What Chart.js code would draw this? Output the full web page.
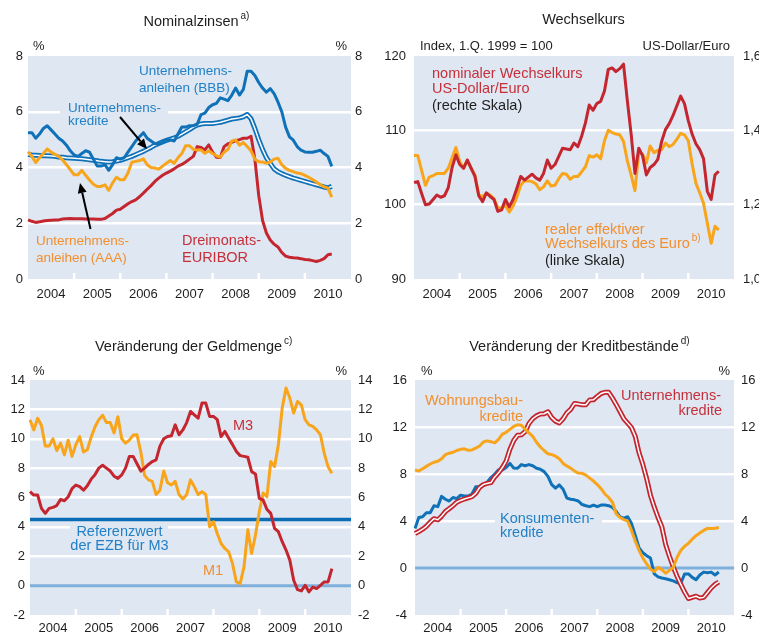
<!DOCTYPE html>
<html>
<head>
<meta charset="utf-8">
<script src="https://cdn.jsdelivr.net/npm/chart.js@4.4.1/dist/chart.umd.min.js"></script>
<style>
  body { margin: 0; background: #fff; }
  #wrap { position: relative; width: 759px; height: 634px; overflow: hidden; }
  canvas { position: absolute; }
</style>
</head>
<body>
<div id="wrap">
  <canvas id="c1" width="379" height="317" style="left:0;top:0"></canvas>
  <canvas id="c2" width="380" height="317" style="left:379px;top:0"></canvas>
  <canvas id="c3" width="379" height="317" style="left:0;top:317px"></canvas>
  <canvas id="c4" width="380" height="317" style="left:379px;top:317px"></canvas>
</div>
<script>
// x axis: monthly, Jan 2004 .. Dec 2010
const years = ['2004', '2005', '2006', '2007', '2008', '2009', '2010'];
const months = ['01', '02', '03', '04', '05', '06', '07', '08', '09', '10', '11', '12'];

// Nominalzinsen (%)
const zinsBBB = [5.25, 5.25, 5.05, 5.2, 5.4, 5.5, 5.35, 5.2, 5.05, 4.95,
  4.8, 4.6, 4.45, 4.4, 4.5, 4.6, 4.55, 4.3, 4.05, 4.05,
  4.1, 3.9, 4.1, 4.35, 4.3, 4.35, 4.55, 4.75, 4.95, 5.1,
  5.25, 5.05, 4.95, 4.85, 4.85, 4.9, 5.0, 5.0, 4.95, 5.2,
  5.45, 5.45, 5.5, 5.5, 5.55, 5.9, 5.95, 6.15, 6.25, 6.3,
  6.5, 6.45, 6.4, 6.6, 6.85, 6.6, 6.8, 7.45, 7.45, 7.3,
  7.05, 6.85, 6.7, 6.83, 6.65, 6.35, 6.0, 5.45, 5.1, 4.98,
  4.75, 4.62, 4.56, 4.55, 4.55, 4.58, 4.62, 4.5, 4.4, 4.04];
const zinsKredite = [4.47, 4.45, 4.44, 4.43, 4.42, 4.42, 4.41, 4.4, 4.38, 4.37,
  4.35, 4.34, 4.33, 4.32, 4.31, 4.3, 4.28, 4.26, 4.24, 4.22,
  4.21, 4.2, 4.21, 4.23, 4.26, 4.3, 4.35, 4.4, 4.46, 4.52,
  4.58, 4.65, 4.72, 4.8, 4.86, 4.92, 4.97, 5.02, 5.06, 5.12,
  5.2, 5.28, 5.36, 5.45, 5.52, 5.56, 5.58, 5.58, 5.58, 5.6,
  5.62, 5.66, 5.7, 5.74, 5.76, 5.78, 5.82, 5.9, 5.75, 5.4,
  5.0, 4.65, 4.35, 4.15, 3.95, 3.85, 3.78, 3.72, 3.67, 3.62,
  3.58, 3.54, 3.5, 3.46, 3.42, 3.38, 3.34, 3.3, 3.27, 3.32];
const zinsAAA = [4.57, 4.4, 4.18, 4.35, 4.5, 4.67, 4.55, 4.47, 4.4, 4.27,
  4.1, 3.92, 3.74, 3.74, 3.9, 3.72, 3.55, 3.4, 3.32, 3.32,
  3.38, 3.18, 3.45, 3.65, 3.56, 3.56, 3.8, 4.19, 4.22, 4.25,
  4.31, 4.1, 4.0, 3.98, 3.94, 4.05, 4.15, 4.25, 4.15, 4.35,
  4.5, 4.78, 4.78, 4.65, 4.63, 4.63, 4.51, 4.6, 4.5, 4.42,
  4.37, 4.55, 4.65, 4.95, 4.99, 4.8, 4.9, 4.75, 4.6, 4.3,
  4.21, 4.2, 4.15, 4.2, 4.3, 4.33, 4.1, 3.97, 3.9, 3.85,
  3.8, 3.78, 3.72, 3.65, 3.57, 3.48, 3.38, 3.31, 3.26, 2.94];
const euribor = [2.12, 2.07, 2.03, 2.05, 2.08, 2.1, 2.11, 2.12, 2.12, 2.15,
  2.16, 2.17, 2.16, 2.16, 2.16, 2.15, 2.15, 2.15, 2.14, 2.14,
  2.17, 2.26, 2.35, 2.47, 2.5, 2.6, 2.7, 2.78, 2.84, 2.95,
  3.08, 3.22, 3.35, 3.5, 3.62, 3.72, 3.8, 3.87, 3.95, 4.05,
  4.11, 4.2, 4.3, 4.4, 4.75, 4.72, 4.63, 4.81, 4.55, 4.37,
  4.36, 4.75, 4.85, 4.9, 4.96, 5.0, 5.05, 5.05, 5.12, 4.3,
  3.0, 2.1, 1.65, 1.4, 1.25, 1.15, 0.95, 0.82, 0.78, 0.76,
  0.75, 0.73, 0.7, 0.69, 0.66, 0.63, 0.67, 0.73, 0.87, 0.9];

// Wechselkurs
const usdEuro = [1.26, 1.262, 1.23, 1.2, 1.202, 1.214, 1.226, 1.22, 1.224, 1.246,
  1.3, 1.334, 1.308, 1.298, 1.32, 1.298, 1.276, 1.224, 1.208, 1.232,
  1.222, 1.214, 1.182, 1.186, 1.214, 1.194, 1.214, 1.244, 1.276, 1.266,
  1.274, 1.282, 1.272, 1.266, 1.284, 1.32, 1.298, 1.308, 1.33, 1.352,
  1.35, 1.348, 1.366, 1.356, 1.384, 1.42, 1.468, 1.454, 1.472, 1.478,
  1.506, 1.564, 1.568, 1.558, 1.566, 1.578, 1.48, 1.39, 1.284, 1.352,
  1.332, 1.28, 1.3, 1.308, 1.322, 1.37, 1.402, 1.418, 1.44, 1.466,
  1.492, 1.472, 1.426, 1.39, 1.364, 1.348, 1.324, 1.236, 1.214, 1.28,
  1.29];
const realEffektiv = [106.6, 106.6, 104.6, 102.6, 103.7, 103.9, 104.2, 104.2, 104.2, 104.9,
  106.3, 107.7, 105.8, 104.9, 106.0, 104.9, 104.0, 101.3, 101.1, 101.5,
  101.3, 100.8, 99.6, 99.5, 99.9, 99.0, 99.8, 101.0, 102.6, 103.2,
  103.2, 103.1, 102.8, 102.0, 102.4, 103.2, 102.5, 102.6, 103.5, 104.2,
  104.1, 103.4, 103.8, 103.8, 104.4, 105.1, 106.6, 106.4, 106.7, 106.2,
  108.6, 110.0, 109.7, 109.5, 109.4, 108.5, 105.9, 104.0, 101.9, 107.0,
  106.8, 105.6, 107.9, 107.0, 107.3, 107.4, 108.3, 107.8, 108.1, 108.8,
  109.6, 109.4, 108.6, 105.5, 102.9, 101.6, 100.2, 97.5, 94.8, 97.1,
  96.6];

// Geldmenge (% gg. Vorjahr)
const geldM1 = [11.3, 10.6, 11.4, 10.9, 9.5, 9.5, 10.0, 9.2, 9.7, 8.9,
  9.9, 8.8, 9.6, 10.15, 9.1, 9.25, 10.1, 10.8, 11.3, 11.6,
  11.1, 11.1, 10.4, 11.5, 10.0, 9.7, 9.9, 10.25, 10.27, 9.1,
  7.5, 7.2, 7.1, 6.2, 6.5, 7.8, 7.0, 6.85, 7.1, 6.2,
  5.9, 6.2, 7.2, 6.74, 6.2, 6.4, 6.2, 4.0, 4.35, 3.55,
  2.87, 2.53, 2.3, 1.5, 0.25, 0.14, 1.28, 3.8, 2.19, 3.44,
  5.03, 6.3, 6.06, 8.45, 8.1, 9.6, 12.1, 13.45, 12.77, 11.75,
  12.54, 12.3, 11.3, 10.95, 10.84, 10.6, 10.27, 9.0, 8.1, 7.65];
const geldM3 = [6.4, 6.17, 6.17, 5.26, 4.92, 5.26, 5.33, 5.45, 5.87, 5.78,
  6.05, 6.6, 6.85, 6.74, 6.5, 6.8, 7.25, 7.55, 8.0, 8.2,
  8.0, 7.8, 7.45, 7.3, 7.54, 8.0, 8.8, 8.8, 8.3, 7.8,
  8.0, 8.25, 8.45, 8.56, 9.5, 10.0, 10.15, 10.2, 10.95, 10.27,
  10.6, 11.1, 11.86, 11.63, 11.4, 12.43, 12.43, 11.52, 11.52, 11.3,
  10.15, 10.5, 10.04, 9.6, 9.13, 8.85, 8.8, 8.74, 7.76, 7.6,
  5.94, 5.83, 5.19, 4.92, 3.9, 3.67, 2.99, 2.42, 1.73, 0.37,
  -0.27, -0.36, 0.02, -0.43, -0.1, -0.2, 0.02, 0.25, 0.25, 1.16];
const referenzwert = 4.5;

// Kreditbestände (% gg. Vorjahr)
const wohnungsbau = [8.35, 8.25, 8.45, 8.65, 8.85, 9.0, 9.08, 9.3, 9.65, 9.77,
  9.85, 10.0, 10.1, 10.14, 10.02, 10.05, 10.2, 10.38, 10.72, 10.82,
  10.75, 10.65, 10.95, 11.4, 11.55, 11.8, 12.05, 12.19, 12.15, 11.8,
  11.5, 11.2, 10.7, 10.3, 10.0, 9.72, 9.65, 9.52, 9.3, 8.9,
  8.68, 8.5, 8.25, 8.08, 8.06, 7.9, 7.65, 7.4, 7.1, 6.75,
  6.3, 6.0, 5.6, 4.6, 4.3, 4.12, 3.98, 3.2, 2.3, 1.5,
  0.85, 0.35, -0.1, -0.3, 0.05, -0.14, -0.45, -0.2, 0.05, 0.9,
  1.5, 1.85, 2.1, 2.45, 2.75, 2.98, 3.2, 3.37, 3.37, 3.38,
  3.45];
const konsum = [3.37, 4.3, 4.36, 4.7, 4.7, 5.3, 5.22, 6.1, 5.85, 5.7,
  6.0, 5.9, 6.2, 6.13, 6.13, 6.3, 6.92, 6.92, 7.0, 7.3,
  7.7, 8.0, 8.35, 8.35, 8.55, 8.9, 8.5, 8.49, 8.8, 8.7,
  8.8, 8.7, 8.49, 8.4, 8.2, 7.8, 7.1, 6.8, 7.07, 6.7,
  5.95, 5.85, 5.8, 5.7, 5.4, 5.3, 5.22, 5.36, 5.22, 5.36,
  5.36, 5.3, 5.15, 4.8, 4.35, 4.25, 4.36, 3.8, 2.8, 1.7,
  1.3, 1.05, 0.85, -0.5, -0.75, -0.85, -0.91, -1.0, -1.1, -1.25,
  -1.3, -0.5, -0.5, -0.8, -1.0, -0.6, -0.35, -0.4, -0.35, -0.6,
  -0.34];
const unternehmen = [2.94, 3.1, 3.3, 3.55, 3.9, 4.2, 4.1, 4.4, 4.8, 5.05,
  5.3, 5.6, 5.75, 5.87, 5.97, 6.07, 6.35, 6.85, 7.1, 7.2,
  7.27, 7.75, 8.1, 8.55, 9.1, 10.1, 10.85, 11.3, 11.33, 11.6,
  12.3, 12.7, 12.95, 13.1, 13.13, 13.3, 12.8, 12.5, 12.35, 12.7,
  13.2, 13.5, 14.0, 13.95, 13.89, 13.9, 14.3, 14.32, 14.6, 14.85,
  14.95, 14.95, 14.46, 13.9, 13.3, 12.7, 12.33, 11.95, 11.2, 9.8,
  8.8, 7.6, 6.2, 5.2, 4.3, 3.5, 2.0, 1.0, 0.1, -0.7,
  -1.4, -2.05, -2.6, -2.5, -2.4, -2.55, -2.5, -2.1, -1.7, -1.4,
  -1.19];

const monthLabels = [];
years.forEach(y => months.forEach(m => monthLabels.push(m + '/' + y)));
monthLabels.push('01/2011');

const BG = '#dfe7f2';
const BLUE = '#0f71b7', BLUE_TXT = '#2281c6';
const ORANGE = '#f8a51c', ORANGE_TXT = '#f28f2e';
const RED = '#c4262f', RED_TXT = '#c5303a';
const FONT = "'Liberation Sans', Arial, sans-serif";

Chart.defaults.font.family = FONT;
Chart.defaults.font.size = 13;
Chart.defaults.color = '#1e1e1e';

function arrow(ctx, x1, y1, x2, y2) {
  const a = Math.atan2(y2 - y1, x2 - x1), hl = 10, hw = 4.5;
  const bx = x2 - hl * Math.cos(a), by = y2 - hl * Math.sin(a);
  ctx.strokeStyle = '#000'; ctx.fillStyle = '#000'; ctx.lineWidth = 2;
  ctx.beginPath(); ctx.moveTo(x1, y1); ctx.lineTo(bx, by); ctx.stroke();
  ctx.beginPath();
  ctx.moveTo(x2, y2);
  ctx.lineTo(bx + hw * Math.sin(a), by - hw * Math.cos(a));
  ctx.lineTo(bx - hw * Math.sin(a), by + hw * Math.cos(a));
  ctx.closePath(); ctx.fill();
}

const decor = {
  id: 'decor',
  beforeDraw(chart) {
    const a = chart.chartArea, ctx = chart.ctx;
    ctx.save();
    ctx.fillStyle = BG;
    ctx.fillRect(a.left, a.top, a.right - a.left, a.bottom - a.top);
    ctx.restore();
  },
  beforeDatasetsDraw(chart, args, o) {
    const a = chart.chartArea, ctx = chart.ctx, sx = chart.scales.x, sy = chart.scales.y;
    ctx.save();
    ctx.fillStyle = BG;
    (o.boxes || []).forEach(b => ctx.fillRect(b[0], b[1], b[2], b[3]));
    // year marks
    ctx.strokeStyle = '#fff'; ctx.lineWidth = 2.5;
    for (let k = 1; k < years.length; k++) {
      const x = sx.getPixelForValue(12 * k);
      ctx.beginPath(); ctx.moveTo(x, a.bottom); ctx.lineTo(x, a.bottom - 6); ctx.stroke();
    }
    (o.hLines || []).forEach(h => {
      const y = sy.getPixelForValue(h.value);
      ctx.strokeStyle = h.color; ctx.lineWidth = h.width;
      ctx.beginPath(); ctx.moveTo(a.left, y); ctx.lineTo(a.right, y); ctx.stroke();
    });
    ctx.restore();
  },
  afterDraw(chart, args, o) {
    const ctx = chart.ctx;
    ctx.save();
    ctx.textBaseline = 'alphabetic';
    (o.texts || []).forEach(t => {
      ctx.font = (t.size || 14.5) + 'px ' + FONT;
      ctx.fillStyle = t.color || '#1e1e1e';
      ctx.textAlign = t.align || 'left';
      ctx.fillText(t.text, t.x, t.y);
      if (t.sup) {
        const w = ctx.measureText(t.text).width;
        const x0 = t.align === 'center' ? t.x + w / 2 : (t.align === 'right' ? t.x : t.x + w);
        ctx.font = '10px ' + FONT;
        ctx.textAlign = 'left';
        ctx.fillText(t.sup, x0 + 2, t.y - 7);
      }
    });
    (o.arrows || []).forEach(p => arrow(ctx, p[0], p[1], p[2], p[3]));
    ctx.restore();
  }
};

function line(data, color, width, axis) {
  return { data: data, borderColor: color, borderWidth: width, yAxisID: axis || 'y',
    pointRadius: 0, fill: false, tension: 0, borderJoinStyle: 'round' };
}

function panel(id, o) {
  const gridColor = ctx => {
    const v = ctx.tick.value;
    if (v <= o.min || v >= o.max || v === 0) return 'rgba(0,0,0,0)';
    return '#ffffff';
  };
  return new Chart(document.getElementById(id), {
    type: 'line',
    data: { labels: monthLabels, datasets: o.datasets },
    options: {
      responsive: false,
      animation: false,
      layout: { padding: { top: o.top, left: 0, right: 0, bottom: 0 } },
      plugins: { legend: { display: false }, tooltip: { enabled: false }, decor: o.decor },
      scales: {
        x: {
          type: 'category', offset: false,
          grid: { display: false, drawTicks: false }, border: { display: false },
          ticks: { autoSkip: false, maxRotation: 0, padding: o.xPad,
            callback: (v, i) => (i % 12 === 6 ? years[Math.floor(i / 12)] : '') },
          afterFit: s => { s.height = o.xH; }
        },
        y: {
          position: 'left', min: o.min, max: o.max,
          ticks: { stepSize: o.step, padding: o.lPad },
          grid: { color: gridColor, lineWidth: 2.5, drawTicks: false }, border: { display: false },
          afterFit: s => { s.width = o.lW; }
        },
        y2: {
          position: 'right', min: o.min2 ?? o.min, max: o.max2 ?? o.max,
          ticks: { stepSize: o.step2 ?? o.step, padding: o.rPad, callback: o.fmt2 },
          grid: { display: false, drawTicks: false }, border: { display: false },
          afterFit: s => { s.width = o.rW; }
        }
      }
    },
    plugins: [decor]
  });
}

// Nominalzinsen
panel('c1', {
  top: 56, xH: 38, xPad: 8, lW: 28, rW: 28, lPad: 5, rPad: 4,
  min: 0, max: 8, step: 2,
  datasets: [
    line(zinsAAA, ORANGE, 3),
    line(zinsBBB, BLUE, 3),
    line(zinsKredite, '#ffffff', 1.5),
    line(zinsKredite, BLUE, 5),
    line(euribor, RED, 3)
  ],
  decor: {
    boxes: [[60, 106, 108, 11]],
    texts: [
      { text: 'Nominalzinsen', x: 191, y: 26, align: 'center', sup: 'a)' },
      { text: '%', x: 33, y: 50, size: 13 },
      { text: '%', x: 347, y: 50, size: 13, align: 'right' },
      { text: 'Unternehmens-', x: 139, y: 75, size: 13.5, color: BLUE_TXT },
      { text: 'anleihen (BBB)', x: 139, y: 91.5, size: 13.5, color: BLUE_TXT },
      { text: 'Unternehmens-', x: 68, y: 112, size: 13.5, color: BLUE_TXT },
      { text: 'kredite', x: 68, y: 124.5, size: 13.5, color: BLUE_TXT },
      { text: 'Unternehmens-', x: 36, y: 245, size: 13.5, color: ORANGE_TXT },
      { text: 'anleihen (AAA)', x: 36, y: 261.5, size: 13.5, color: ORANGE_TXT },
      { text: 'Dreimonats-', x: 182, y: 245, color: RED_TXT },
      { text: 'EURIBOR', x: 182, y: 261.5, color: RED_TXT }
    ],
    arrows: [[120, 117, 147, 149], [90.5, 229, 80, 183]]
  }
});

// Wechselkurs
panel('c2', {
  top: 56, xH: 38, xPad: 8, lW: 35, rW: 25, lPad: 8, rPad: 9,
  min: 90, max: 120, step: 10, min2: 1.0, max2: 1.6, step2: 0.2,
  fmt2: v => v.toFixed(1).replace('.', ','),
  datasets: [
    line(usdEuro, RED, 3, 'y2'),
    line(realEffektiv, ORANGE, 3)
  ],
  decor: {
    texts: [
      { text: 'Wechselkurs', x: 204.5, y: 24, align: 'center' },
      { text: 'Index, 1.Q. 1999 = 100', x: 41, y: 49.5, size: 13 },
      { text: 'US-Dollar/Euro', x: 351, y: 49.5, size: 13, align: 'right' },
      { text: 'nominaler Wechselkurs', x: 53, y: 77.5, color: RED_TXT },
      { text: 'US-Dollar/Euro', x: 53, y: 92.5, color: RED_TXT },
      { text: '(rechte Skala)', x: 53, y: 110 },
      { text: 'realer effektiver', x: 166, y: 233.5, color: ORANGE_TXT },
      { text: 'Wechselkurs des Euro', x: 166, y: 247.5, color: ORANGE_TXT, sup: 'b)' },
      { text: '(linke Skala)', x: 166, y: 265 }
    ]
  }
});

// Geldmenge
panel('c3', {
  top: 63, xH: 19, xPad: 6, lW: 30, rW: 28, lPad: 5, rPad: 7,
  min: -2, max: 14, step: 2,
  datasets: [
    line(geldM3, RED, 3),
    line(geldM1, ORANGE, 3)
  ],
  decor: {
    boxes: [[70, 206.5, 98, 7]],
    hLines: [{ value: 0, color: '#7fb0dc', width: 3 }, { value: referenzwert, color: '#0a6cb4', width: 3.6 }],
    texts: [
      { text: 'Veränderung der Geldmenge', x: 188.5, y: 34, align: 'center', sup: 'c)' },
      { text: '%', x: 33, y: 58, size: 13 },
      { text: '%', x: 347, y: 58, size: 13, align: 'right' },
      { text: 'M3', x: 233, y: 113, color: RED_TXT },
      { text: 'M1', x: 203, y: 258, color: ORANGE_TXT },
      { text: 'Referenzwert', x: 119.5, y: 218.7, align: 'center', color: BLUE_TXT },
      { text: 'der EZB für M3', x: 119.5, y: 233, align: 'center', color: BLUE_TXT }
    ]
  }
});

// Kreditbestände
panel('c4', {
  top: 63, xH: 19, xPad: 6, lW: 36, rW: 25, lPad: 8, rPad: 7,
  min: -4, max: 16, step: 4,
  datasets: [
    line(wohnungsbau, ORANGE, 3),
    line(unternehmen, '#ffffff', 1.5),
    line(unternehmen, RED, 5),
    line(konsum, BLUE, 3)
  ],
  decor: {
    boxes: [[116, 200, 107, 8]],
    hLines: [{ value: 0, color: '#7fb0dc', width: 3 }],
    texts: [
      { text: 'Veränderung der Kreditbestände', x: 195, y: 34, align: 'center', sup: 'd)' },
      { text: '%', x: 42, y: 58, size: 13 },
      { text: '%', x: 351, y: 58, size: 13, align: 'right' },
      { text: 'Wohnungsbau-', x: 144, y: 87.5, align: 'right', color: ORANGE_TXT },
      { text: 'kredite', x: 144, y: 104, align: 'right', color: ORANGE_TXT },
      { text: 'Unternehmens-', x: 342, y: 83, align: 'right', color: RED_TXT },
      { text: 'kredite', x: 343, y: 97.5, align: 'right', color: RED_TXT },
      { text: 'Konsumenten-', x: 121, y: 205.7, color: BLUE_TXT },
      { text: 'kredite', x: 121, y: 219.7, color: BLUE_TXT }
    ]
  }
});
</script>
</body>
</html>
